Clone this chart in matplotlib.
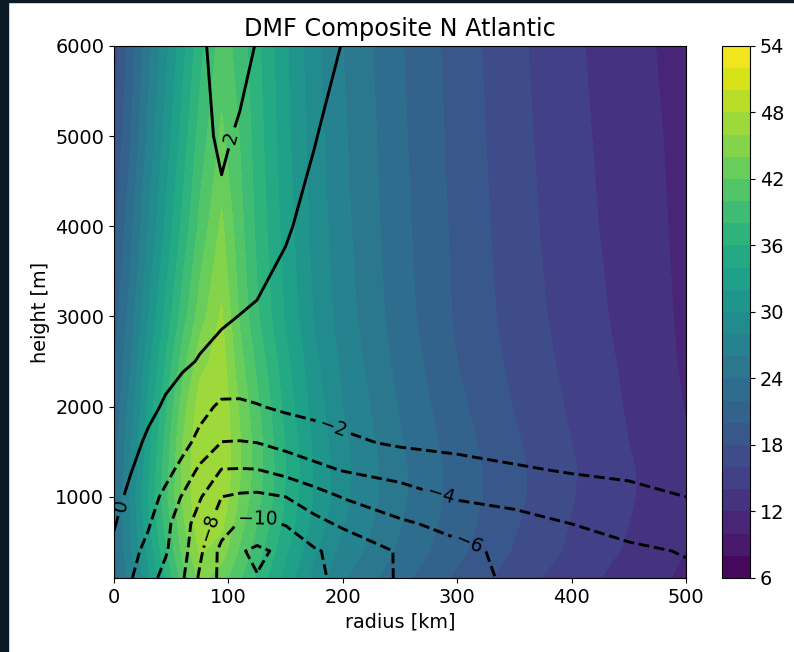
import numpy as np
import matplotlib
matplotlib.use('Agg')
import matplotlib.pyplot as plt
from matplotlib.patches import Rectangle

plt.rcParams['font.size'] = 13.9

# radius [km] and height [m] of the composite grid
radius = [0, 15, 30, 45, 60, 75, 94, 110, 125, 150, 175, 200, 250, 300, 350, 400, 450, 500]
height = [100, 400, 700, 1000, 1300, 1600, 2000, 2500, 3000, 4000, 5000, 6000]

# tangential wind (filled), one row per height
vt = np.array([
    [23.0, 27.0, 31.5, 36.0, 41.0, 44.5, 43.0, 40.2, 37.5, 33.3, 29.3, 26.3, 22.6, 19.6, 17.0, 14.9, 13.1, 11.6],
    [23.5, 27.8, 32.5, 37.5, 42.5, 46.3, 45.0, 41.7, 39.0, 34.3, 30.3, 27.3, 23.6, 20.5, 17.8, 15.6, 13.7, 12.0],
    [23.5, 28.3, 33.5, 38.5, 43.5, 47.3, 46.5, 42.7, 40.0, 35.3, 31.3, 28.1, 24.1, 20.9, 18.2, 15.9, 14.0, 12.2],
    [23.5, 28.5, 34.0, 39.3, 44.3, 47.7, 47.5, 43.7, 40.7, 35.8, 31.8, 28.6, 24.4, 21.2, 18.5, 16.1, 14.2, 12.4],
    [23.2, 28.0, 33.5, 39.0, 44.3, 47.8, 47.8, 44.2, 41.0, 36.0, 31.8, 28.6, 24.4, 21.2, 18.5, 16.2, 14.2, 12.4],
    [23.0, 27.8, 33.0, 38.5, 44.0, 47.6, 47.8, 44.2, 41.0, 35.8, 31.6, 28.4, 24.2, 20.9, 18.3, 16.0, 14.0, 12.2],
    [22.5, 27.0, 32.5, 37.5, 43.0, 47.0, 47.6, 43.7, 40.5, 35.3, 31.1, 28.0, 23.8, 20.5, 17.9, 15.7, 13.8, 11.9],
    [21.7, 26.0, 31.3, 36.0, 41.0, 45.3, 47.0, 42.7, 39.5, 34.6, 30.5, 27.5, 23.3, 20.0, 17.5, 15.4, 13.6, 11.7],
    [21.0, 25.0, 30.0, 34.5, 39.0, 43.0, 46.3, 41.7, 38.3, 33.7, 29.8, 27.0, 22.9, 19.7, 17.2, 15.1, 13.4, 11.6],
    [19.5, 23.5, 28.0, 32.3, 36.5, 40.5, 44.4, 40.7, 37.5, 33.1, 29.3, 26.6, 22.6, 19.5, 16.9, 14.8, 13.1, 11.5],
    [18.2, 22.0, 26.5, 30.7, 34.8, 38.8, 42.4, 39.9, 37.0, 32.6, 28.9, 26.3, 22.4, 19.3, 16.7, 14.6, 12.9, 11.4],
    [17.0, 21.0, 25.3, 29.3, 33.3, 37.2, 41.0, 39.2, 36.5, 32.3, 28.6, 26.0, 22.2, 19.1, 16.5, 14.4, 12.7, 11.2],
])

# radial wind (contour lines), one row per height
ur = np.array([
    [-0.8, -1.9, -3.3, -4.6, -5.8, -8.3, -10.5, -11.4, -11.9, -11.2, -10.4, -9.5, -7.8, -6.8, -5.6, -5.0, -4.6, -4.3],
    [-0.3, -1.4, -2.6, -3.8, -5.3, -7.6, -10.6, -11.8, -12.4, -11.5, -10.2, -9.4, -7.8, -6.5, -5.5, -4.8, -4.3, -3.9],
    [0.1, -0.8, -1.8, -3.5, -5.1, -7.0, -9.0, -10.2, -10.4, -9.9, -8.6, -7.7, -6.3, -5.4, -4.7, -4.0, -3.4, -2.9],
    [0.5, -0.4, -1.3, -2.4, -4.2, -5.8, -8.0, -8.3, -8.4, -8.0, -6.9, -5.9, -4.8, -3.8, -3.4, -2.9, -2.5, -2.0],
    [0.8, 0.05, -0.7, -1.45, -2.5, -4.4, -6.05, -6.1, -6.05, -5.3, -4.5, -3.9, -3.3, -2.75, -2.2, -1.85, -1.65, -1.5],
    [1.1, 0.5, -0.3, -0.9, -1.5, -2.5, -4.05, -4.1, -4.0, -3.4, -2.9, -2.35, -1.75, -1.45, -1.25, -1.1, -1.0, -0.9],
    [1.2, 0.8, 0.4, -0.2, -0.8, -1.45, -2.3, -2.3, -2.1, -1.7, -1.45, -1.3, -1.1, -0.95, -0.85, -0.8, -0.75, -0.7],
    [1.2, 1.0, 0.8, 0.55, 0.25, -0.1, -0.5, -0.6, -0.6, -0.55, -0.5, -0.5, -0.5, -0.5, -0.45, -0.45, -0.45, -0.4],
    [1.2, 1.1, 1.0, 0.9, 0.7, 0.5, 0.2, -0.03, -0.2, -0.35, -0.4, -0.45, -0.45, -0.45, -0.45, -0.4, -0.4, -0.4],
    [1.0, 1.1, 1.2, 1.3, 1.4, 1.5, 1.6, 1.3, 0.9, 0.1, -0.3, -0.5, -0.6, -0.6, -0.6, -0.6, -0.6, -0.6],
    [0.8, 0.9, 1.0, 1.15, 1.3, 1.49, 2.3, 1.77, 1.3, 0.7, 0.05, -0.4, -0.7, -0.8, -0.8, -0.8, -0.8, -0.8],
    [0.6, 0.7, 0.85, 1.0, 1.25, 1.54, 3.0, 2.6, 1.9, 1.2, 0.6, -0.05, -0.7, -1.0, -1.1, -1.1, -1.1, -1.1],
])

vt_levels = np.arange(6, 56, 2)
ur_levels = [-12, -10, -8, -6, -4, -2, 0, 2]
label_spots = [(103, 4980), (7, 900), (189, 1680), (285, 1000), (311, 500), (81, 670), (126, 790)]


def minus_fmt(v):
    return '{:.0f}'.format(v).replace('-', '\u2212')


fig = plt.figure(figsize=(7.94, 6.52), dpi=100)
# dark page border of the screenshot
fig.add_artist(Rectangle((0, 0), 8 / 794, 1, transform=fig.transFigure, color='#0b1a24', zorder=-1))
fig.add_artist(Rectangle((0, 1 - 2 / 652), 1, 2 / 652, transform=fig.transFigure, color='#0b1a24', zorder=-1))

ax = fig.add_axes([0.1436, 0.1135, 0.7204, 0.816])
cax = fig.add_axes([0.9093, 0.1135, 0.0353, 0.816])

cf = ax.contourf(radius, height, vt, levels=vt_levels, cmap='viridis')
cs = ax.contour(radius, height, ur, levels=ur_levels, colors='k', linewidths=2.1)
ax.clabel(cs, fmt=minus_fmt, fontsize=13.5, manual=label_spots)

ax.set_title('DMF Composite N Atlantic', fontsize=17.2, pad=7)
ax.set_xlabel('radius [km]')
ax.set_ylabel('height [m]')

cb = fig.colorbar(cf, cax=cax, ticks=np.arange(6, 55, 6))

fig.savefig('out.png', dpi=100)
